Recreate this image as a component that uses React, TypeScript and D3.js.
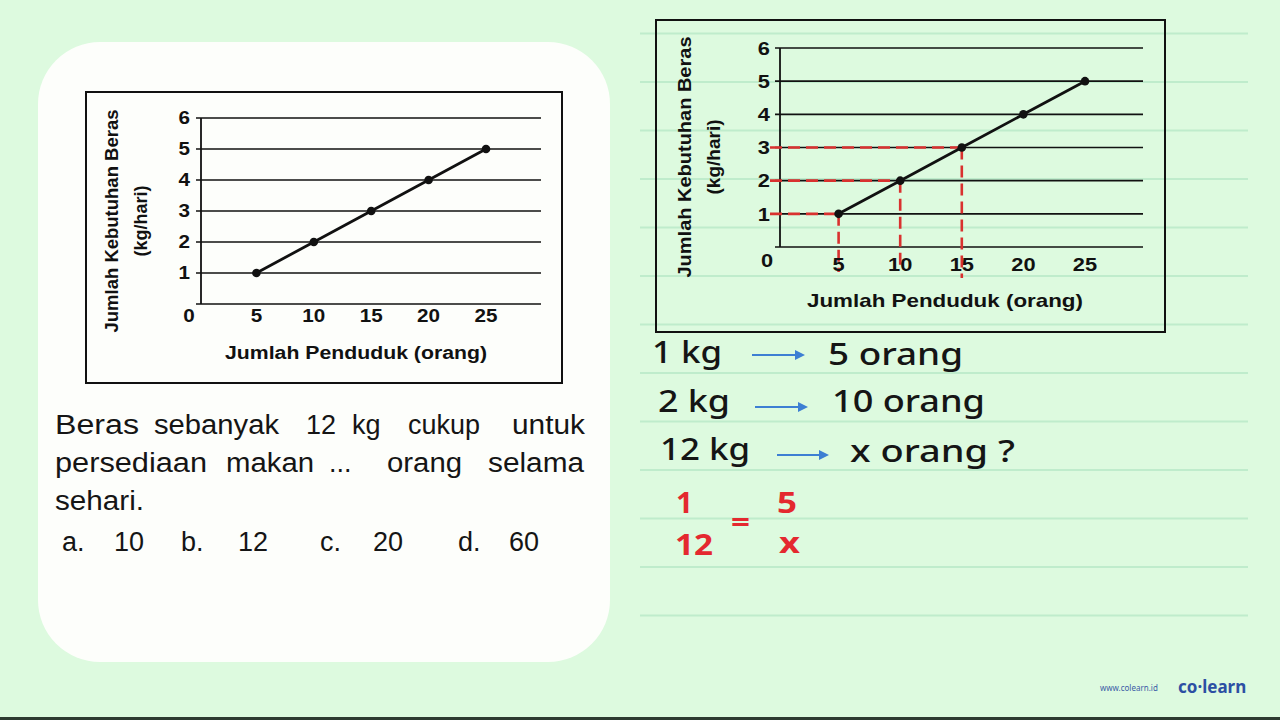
import React from "react";
import * as d3 from "d3";

// ---- data ----
const penduduk = [5, 10, 15, 20, 25];
const beras = [1, 2, 3, 4, 5];
const yTicks = [1, 2, 3, 4, 5, 6];
const xTicks = [5, 10, 15, 20, 25];
const guidePoints = [0, 1, 2]; // indices of points with red guides (right chart)
const xTitle = "Jumlah Penduduk (orang)";
const yTitle1 = "Jumlah Kebutuhan Beras";
const yTitle2 = "(kg/hari)";

const CHART_FONT = "'Liberation Sans', Arial, Helvetica, sans-serif";
const HAND_FONT = "'Noto Sans', 'Open Sans', sans-serif";

type ChartCfg = {
  box: [number, number, number, number];
  xr: [number, number];
  yr: [number, number];
  axisX: number;
  gridEnd: number;
  yLabelX: number;
  zero: [number, number];
  xLabelY: number;
  xTitlePos: [number, number, number];
  yTitleX: [number, number];
  yTitleCY: number;
  yTitleLen: number;
  tickFs: number;
  titleFs: number;
  guides?: boolean;
};

function Lbl({ x, y, s, fs, anchor, dy }: { x: number; y: number; s: string | number; fs: number; anchor: string; dy?: string }) {
  return (
    <g transform={`translate(${x},${y}) scale(1.18,1)`}>
      <text x={0} y={0} dy={dy} textAnchor={anchor} fontSize={fs} fontWeight="bold">
        {s}
      </text>
    </g>
  );
}

function Chart({ c }: { c: ChartCfg }) {
  const x = d3.scaleLinear().domain([0, 25]).range(c.xr);
  const y = d3.scaleLinear().domain([0, 6]).range(c.yr);
  const pts = penduduk.map((p, i) => [x(p), y(beras[i])] as [number, number]);
  const line = d3.line()(pts) || "";
  const [bx0, by0, bx1, by1] = c.box;
  const guideExt = [25, 21, 31];
  return (
    <g fontFamily={CHART_FONT} fill="#111">
      <rect x={bx0} y={by0} width={bx1 - bx0} height={by1 - by0} fill="none" stroke="#111" strokeWidth={2} />
      {[0, ...yTicks].map((t) => (
        <line key={t} x1={c.axisX - 5} x2={c.gridEnd} y1={y(t)} y2={y(t)} stroke="#111" strokeWidth={1.6} />
      ))}
      <line x1={c.axisX} x2={c.axisX} y1={y(0)} y2={y(6)} stroke="#111" strokeWidth={1.8} />
      {c.guides &&
        guidePoints.map((gi, k) => (
          <g key={gi} stroke="#d9312f" strokeWidth={2.6} strokeDasharray="12 6" fill="none">
            <line x1={c.axisX - 10} x2={x(penduduk[gi])} y1={y(beras[gi])} y2={y(beras[gi])} />
            <line x1={x(penduduk[gi])} x2={x(penduduk[gi])} y1={y(beras[gi])} y2={y(0) + guideExt[k]} />
          </g>
        ))}
      <path d={line} fill="none" stroke="#111" strokeWidth={2.8} />
      {pts.map((p, i) => (
        <circle key={i} cx={p[0]} cy={p[1]} r={4.3} fill="#111" />
      ))}
      {yTicks.map((t) => (
        <Lbl key={t} x={c.yLabelX} y={y(t)} dy="0.36em" anchor="end" fs={c.tickFs} s={t} />
      ))}
      <Lbl x={c.zero[0]} y={c.zero[1]} anchor="middle" fs={c.tickFs} s="0" />
      {xTicks.map((t) => (
        <Lbl key={t} x={x(t)} y={c.xLabelY} anchor="middle" fs={c.tickFs} s={t} />
      ))}
      <text
        x={c.xTitlePos[0] - c.xTitlePos[2] / 2}
        y={c.xTitlePos[1]}
        fontSize={c.titleFs}
        fontWeight="bold"
        textLength={c.xTitlePos[2]}
        lengthAdjust="spacingAndGlyphs"
      >
        {xTitle}
      </text>
      <text
        transform={`translate(${c.yTitleX[0]},${c.yTitleCY}) rotate(-90)`}
        x={-c.yTitleLen / 2}
        dy="0.36em"
        fontSize={c.titleFs}
        fontWeight="bold"
        textLength={c.yTitleLen}
        lengthAdjust="spacingAndGlyphs"
      >
        {yTitle1}
      </text>
      <text
        transform={`translate(${c.yTitleX[1]},${c.yTitleCY}) rotate(-90)`}
        textAnchor="middle"
        dy="0.36em"
        fontSize={c.titleFs}
        fontWeight="bold"
      >
        {yTitle2}
      </text>
    </g>
  );
}

const leftCfg: ChartCfg = {
  box: [86, 92, 562, 383],
  xr: [199, 486],
  yr: [304, 118],
  axisX: 201,
  gridEnd: 541,
  yLabelX: 190,
  zero: [189, 322],
  xLabelY: 322,
  xTitlePos: [356, 359, 262],
  yTitleX: [112, 141],
  yTitleCY: 221,
  yTitleLen: 223,
  tickFs: 17.5,
  titleFs: 18,
};

const rightCfg: ChartCfg = {
  box: [656, 20, 1165, 332],
  xr: [777, 1085],
  yr: [247, 48],
  axisX: 780,
  gridEnd: 1143,
  yLabelX: 770,
  zero: [767, 267],
  xLabelY: 271,
  xTitlePos: [945, 307, 276],
  yTitleX: [684, 713],
  yTitleCY: 157,
  yTitleLen: 241,
  tickFs: 18.5,
  titleFs: 19,
  guides: true,
};

const notebookLines = d3.range(0, 13).map((i) => 33.5 + i * 48.5);

function Arrow({ x1, x2, y }: { x1: number; x2: number; y: number }) {
  return (
    <g stroke="#3d7fd3" fill="#3d7fd3">
      <line x1={x1} x2={x2 - 6} y1={y} y2={y} strokeWidth={2.2} />
      <path d={`M${x2},${y} L${x2 - 10},${y - 5} L${x2 - 10},${y + 5} Z`} stroke="none" />
    </g>
  );
}

function Hand({ x, y, w, s, fill = "#151515", fs = 31, fw = 500 }: { x: number; y: number; w: number; s: string; fill?: string; fs?: number; fw?: number }) {
  return (
    <text x={x} y={y} fontFamily={HAND_FONT} fontSize={fs} fontWeight={fw} fill={fill} textLength={w} lengthAdjust="spacingAndGlyphs">
      {s}
    </text>
  );
}

const Q_FONT = "'Liberation Sans', Arial, Helvetica, sans-serif";
const qWords: [string, number, number, number][] = [
  ["Beras", 55, 434, 84],
  ["sebanyak", 154, 434, 125],
  ["12", 306, 434, 0],
  ["kg", 352, 434, 0],
  ["cukup", 408, 434, 72],
  ["untuk", 512, 434, 73],
  ["persediaan", 55, 472, 152],
  ["makan", 226, 472, 88],
  ["...", 329, 472, 0],
  ["orang", 387, 472, 75],
  ["selama", 488, 472, 96],
  ["sehari.", 55, 510, 89],
  ["a.", 62, 551, 0],
  ["10", 114, 551, 0],
  ["b.", 181, 551, 0],
  ["12", 238, 551, 0],
  ["c.", 320, 551, 0],
  ["20", 373, 551, 0],
  ["d.", 458, 551, 0],
  ["60", 509, 551, 0],
];

export default function App() {
  return (
    <svg
      width={1280}
      height={720}
      viewBox="0 0 1280 720"
      style={{ position: "fixed", left: 0, top: 0, display: "block" }}
    >
      <rect x={0} y={0} width={1280} height={720} fill="#ddfadf" />
      {notebookLines.map((ly, i) => (
        <line key={i} x1={640} x2={1248} y1={ly} y2={ly} stroke="#bfeccc" strokeWidth={2} />
      ))}
      <rect x={38} y={42} width={572} height={620} rx={62} ry={62} fill="#fdfefb" />

      <Chart c={leftCfg} />
      <Chart c={rightCfg} />

      <g fontFamily={Q_FONT} fontSize={27} fill="#151515">
        {qWords.map(([w, qx, qy, wl], i) =>
          wl > 0 ? (
            <text key={i} x={qx} y={qy} textLength={wl} lengthAdjust="spacingAndGlyphs">
              {w}
            </text>
          ) : (
            <text key={i} x={qx} y={qy}>
              {w}
            </text>
          )
        )}
      </g>

      <Hand x={652} y={363} w={70} s="1 kg" />
      <Arrow x1={752} x2={805} y={355} />
      <Hand x={828} y={365} w={135} s="5 orang" />
      <Hand x={658} y={412} w={72} s="2 kg" />
      <Arrow x1={755} x2={808} y={407} />
      <Hand x={832} y={412} w={153} s="10 orang" />
      <Hand x={660} y={460} w={90} s="12 kg" />
      <Arrow x1={777} x2={829} y={455} />
      <Hand x={850} y={462} w={165} s="x orang ?" />

      <Hand x={676} y={513} w={17} s="1" fill="#e4282f" fs={28} fw={700} />
      <Hand x={675} y={555} w={38} s="12" fill="#e4282f" fs={28} fw={700} />
      <Hand x={731} y={532} w={19} s="=" fill="#e4282f" fs={28} fw={700} />
      <Hand x={777} y={513} w={20} s="5" fill="#e4282f" fs={28} fw={700} />
      <Hand x={779} y={553} w={21} s="x" fill="#e4282f" fs={28} fw={700} />

      <text x={1100} y={691} fontFamily="'Noto Sans', sans-serif" fontSize={8} fill="#3a5aa6">
        www.colearn.id
      </text>
      <text x={1178} y={693} fontFamily="'Noto Sans', sans-serif" fontSize={17} fontWeight="bold" fill="#2c4fa3">
        co·learn
      </text>
      <rect x={0} y={717} width={1280} height={3} fill="#2d3a30" />
    </svg>
  );
}
